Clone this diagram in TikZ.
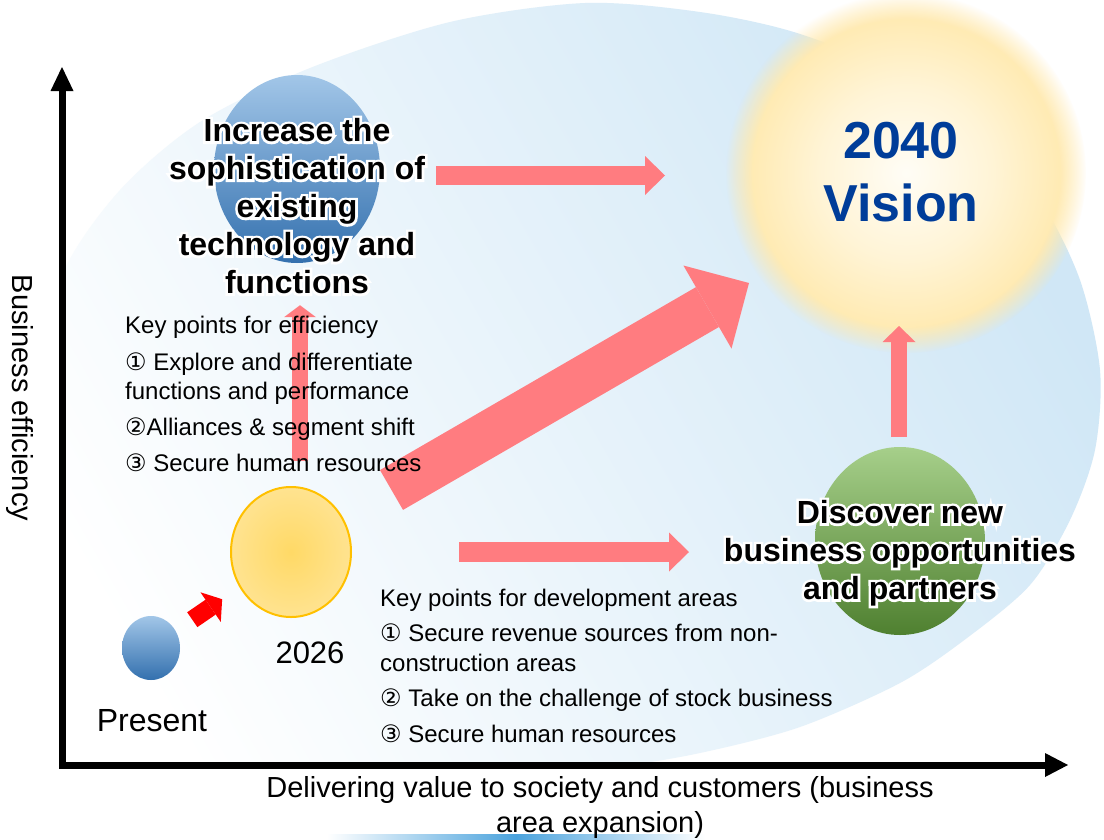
\documentclass[tikz,border=0pt]{standalone}
\usepackage{fontspec}
\setmainfont{Liberation Sans}
\newfontfamily\circfont{DejaVu Sans}
\newfontfamily\glowfont{Liberation Sans}[BoldFeatures={FakeBold=16}]
\usetikzlibrary{arrows.meta,fadings,shapes.geometric}

\definecolor{arrowpink}{HTML}{FF7C80}
\definecolor{arrowred}{HTML}{FF0000}
\definecolor{visionblue}{HTML}{003D99}
\definecolor{skyblue}{HTML}{D0E7F6}
\definecolor{lineblue}{HTML}{4BA3DD}
\definecolor{dotblueA}{HTML}{A2C6E8}
\definecolor{dotblueB}{HTML}{3370AE}
\definecolor{greenA}{HTML}{A6CF8A}
\definecolor{greenB}{HTML}{4F8030}
\definecolor{ringorange}{HTML}{FFC000}
\definecolor{yelA}{HTML}{FFD966}
\definecolor{yelB}{HTML}{FFEDBA}
\definecolor{sunA}{HTML}{FFFDF6}
\definecolor{sunB}{HTML}{FFF4D6}
\definecolor{sunC}{HTML}{FFE8AA}
\definecolor{sunD}{HTML}{FFE39A}
\definecolor{sunE}{HTML}{FFEE88}
\definecolor{sunF}{HTML}{FFF57A}
\definecolor{sunG}{HTML}{FFF799}

\pgfdeclareradialshading{sunglow}{\pgfpoint{0bp}{0bp}}{color(0bp)=(sunA); color(12bp)=(sunB); color(24bp)=(sunC); color(30bp)=(sunD); color(34bp)=(sunE); color(38bp)=(sunF); color(50bp)=(sunG)}
\pgfdeclareradialshading{balloon}{\pgfpoint{0bp}{0bp}}{color(0bp)=(yelA); color(50bp)=(yelB)}

\newcommand{\cnum}[1]{{\circfont #1}}

\tikzset{
	blockarrow/.style n args={3}{arrowpink, line width=#1, -{Triangle[width=#2, length=#3, line width=0pt]}},
	bluedot/.style={ellipse, inner sep=0pt, top color=dotblueA, bottom color=dotblueB},
	heading/.style={align=center, font=\bfseries\fontsize{32}{38}\selectfont},
	headglow/.style={heading, text=white, font=\glowfont\bfseries\fontsize{32}{38}\selectfont},
	keypoints/.style={align=left, anchor=north west, inner sep=0pt},
	axislabel/.style={align=center, font=\fontsize{29}{35}\selectfont}
}

\begin{document}
\begin{tikzpicture}[x=1pt, y=-1pt]
	\useasboundingbox (0,0) rectangle (1104,839);
	\fill[white] (0,0) rectangle (1104,839);
	
	%background
	\begin{scope}
		\clip (62,0) rectangle (1104,765);
		\shade[top color=skyblue, bottom color=white, shading angle=-60] plot[smooth cycle, tension=0.5] coordinates {(585,3) (700,12) (797,33) (900,75) (980,135) (1040,200) (1080,280) (1100,370) (1095,450) (1070,520) (1030,585) (967,638) (900,683) (800,727) (700,753) (600,770) (400,800) (150,800) (30,650) (30,400) (62,275) (120,190) (200,122) (310,68) (450,22)};
	\end{scope}
	\shade[left color=white, right color=white, middle color=lineblue] (327,834) rectangle (705,839);
	
	%sun
	\coordinate (sun) at (906,173);
	\shade[shading=sunglow, path fading=circle with fuzzy edge 15 percent] (sun) circle [radius=180];
	
	%balls
	\node (tech) at (297,169) [bluedot, minimum width=166pt, minimum height=188pt] {};
	\node (present) at (151,648) [bluedot, minimum width=58pt, minimum height=64pt] {};
	\node (newbiz) at (900,541) [ellipse, inner sep=0pt, minimum width=170pt, minimum height=188pt, top color=greenA, bottom color=greenB] {};
	\node (y2026) at (291,552) [ellipse, inner sep=0pt, minimum width=120pt, minimum height=130pt, draw=ringorange, line width=2pt, shade, shading=balloon] {};
	
	%arrows
	\coordinate (a1s) at (436,175.5);
	\coordinate (a1e) at (665,175.5);
	\coordinate (a2s) at (391.5,490);
	\coordinate (a2e) at (749,283);
	\coordinate (a3s) at (459,552);
	\coordinate (a3e) at (689,552);
	\coordinate (a4s) at (899,437);
	\coordinate (a4e) at (899,326);
	\draw[blockarrow={19pt}{39pt}{20pt}] (a1s) -- (a1e);
	\draw[blockarrow={46pt}{96pt}{48pt}] (a2s) -- (a2e);
	\draw[blockarrow={20pt}{39pt}{20pt}] (a3s) -- (a3e);
	\draw[blockarrow={16pt}{33pt}{16pt}] (a4s) -- (a4e);
	\draw[blockarrow={16pt}{32pt}{12pt}, shorten <=25pt, shorten >=42pt] ([xshift=9pt]y2026.north) -- ([xshift=3pt]tech.south);
	\draw[arrowred, line width=18pt, -{Triangle[width=36pt, length=14pt, line width=0pt]}, shorten <=20pt, shorten >=21pt] (present) -- (y2026);
	
	%texts
	\node (vision) at (901,172) [align=center, text=visionblue, font=\bfseries\fontsize{52}{63}\selectfont] {2040\\Vision};
	\node (techglow) at (297,206) [headglow] {Increase the\\sophistication of\\existing\\technology and\\functions};
	\node (techtext) at (techglow) [heading] {Increase the\\sophistication of\\existing\\technology and\\functions};
	\node (newbizglow) at (900,553) [headglow] {Discover new\\business opportunities\\and partners};
	\node (newbiztext) at (newbizglow) [heading] {Discover new\\business opportunities\\and partners};
	\node (effpoints) at (125,316) [keypoints, font=\fontsize{24}{29}\selectfont] {Key points for efficiency\\[8pt]
		\cnum{①} Explore and differentiate\\
		functions and performance\\[7pt]
		\cnum{②}Alliances \& segment shift\\[7pt]
		\cnum{③} Secure human resources};
	\node (devpoints) at (380,589) [keypoints, font=\fontsize{24}{30}\selectfont] {Key points for development areas\\[5pt]
		\cnum{①} Secure revenue sources from non-\\
		construction areas\\[5pt]
		\cnum{②} Take on the challenge of stock business\\[6pt]
		\cnum{③} Secure human resources};
	\node (presentlabel) at (152,721) [font=\fontsize{32}{38}\selectfont] {Present};
	\node (label2026) at (310,653) [font=\fontsize{31}{38}\selectfont] {2026};
	
	%axes
	\draw[line width=7pt, {Triangle[width=23pt, length=24pt, line width=0pt]}-{Triangle[width=24pt, length=23pt, line width=0pt]}] (62,67) -- (62,765) -- (1068,765);
	\node (yaxis) at (20,398) [axislabel, rotate=-90] {Business efficiency};
	\node (xaxis) at (600,807) [axislabel] {Delivering value to society and customers (business\\area expansion)};
\end{tikzpicture}
\end{document}
